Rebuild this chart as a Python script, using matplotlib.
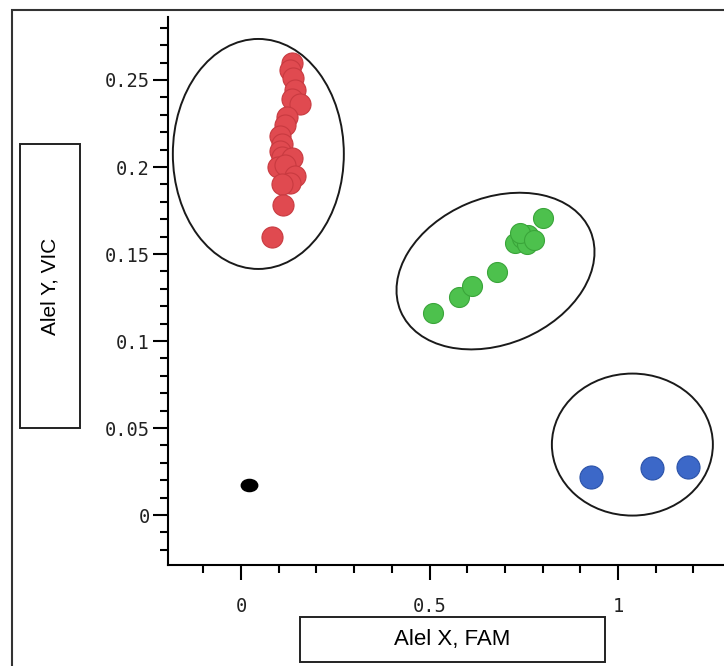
import matplotlib
matplotlib.use('Agg')
import matplotlib.pyplot as plt
import matplotlib.patches as patches
import matplotlib.transforms as mtransforms
from matplotlib.path import Path
from matplotlib.ticker import MultipleLocator, FuncFormatter

# allele Y (VIC) homozygotes
red_x = [0.134, 0.130, 0.138, 0.143, 0.136, 0.156, 0.122, 0.117, 0.103, 0.110,
         0.103, 0.109, 0.135, 0.098, 0.117, 0.143, 0.130, 0.109, 0.111, 0.082]
red_y = [0.260, 0.256, 0.251, 0.244, 0.239, 0.236, 0.229, 0.224, 0.218, 0.213,
         0.209, 0.206, 0.205, 0.200, 0.201, 0.195, 0.191, 0.190, 0.178, 0.160]

# heterozygotes
green_x = [0.510, 0.577, 0.612, 0.678, 0.727, 0.745, 0.762, 0.758, 0.740, 0.802, 0.776]
green_y = [0.1163, 0.1251, 0.1316, 0.1398, 0.1561, 0.1590, 0.1610, 0.1560, 0.1620, 0.1705, 0.1580]

# allele X (FAM) homozygotes
blue_x = [0.928, 1.089, 1.186]
blue_y = [0.0217, 0.0268, 0.0274]

# no template control
ntc_x = [0.021]
ntc_y = [0.0172]

# cluster circles: center x, center y, width px, height px, angle
clusters = [
    (0.046, 0.2075, 171, 230, 0),
    (0.675, 0.1402, 206, 146, 23),
    (1.038, 0.0405, 161, 142, 0),
]

W, H = 724, 666
fig = plt.figure(figsize=(W / 100, H / 100), dpi=100)

ax = fig.add_axes([168 / W, 1 - 565 / H, 1 - 168 / W, (565 - 17) / H])
ax.set_xlim(-0.1936, 1.281)
ax.set_ylim(-0.0287, 0.2862)

ax.scatter(red_x, red_y, s=230, color='#E04A50', edgecolors='#C83A40', linewidths=0.8, zorder=3)
ax.scatter(green_x, green_y, s=207, color='#4DC14D', edgecolors='#3AA53A', linewidths=0.8, zorder=3)
ax.scatter(blue_x, blue_y, s=275, color='#3C68C8', edgecolors='#2A52A8', linewidths=0.8, zorder=3)

# black dot is a bit wider than tall
oval = Path(Path.unit_circle().vertices * [1.35, 1.0], Path.unit_circle().codes)
ax.scatter(ntc_x, ntc_y, s=140, marker=oval, color='black', zorder=3)

for cx, cy, w, h, ang in clusters:
    tr = fig.dpi_scale_trans + mtransforms.ScaledTranslation(cx, cy, ax.transData)
    ax.add_patch(patches.Ellipse((0, 0), w / 100, h / 100, angle=ang, transform=tr,
                                 fill=False, edgecolor='#1a1a1a', lw=1.4, zorder=2))

ax.spines['top'].set_visible(False)
ax.spines['right'].set_visible(False)
ax.spines['left'].set_linewidth(1.5)
ax.spines['bottom'].set_linewidth(1.5)

ax.xaxis.set_major_locator(MultipleLocator(0.5))
ax.xaxis.set_minor_locator(MultipleLocator(0.1))
ax.yaxis.set_major_locator(MultipleLocator(0.05))
ax.yaxis.set_minor_locator(MultipleLocator(0.01))
ax.xaxis.set_major_formatter(FuncFormatter(lambda v, p: '%g' % round(v, 3)))
ax.yaxis.set_major_formatter(FuncFormatter(lambda v, p: '%g' % round(v, 3)))

ax.tick_params(which='major', length=11, width=1.5)
ax.tick_params(which='minor', length=6, width=1.5)
ax.tick_params(axis='x', which='major', pad=12)
ax.tick_params(axis='y', which='major', pad=2)
for lab in ax.get_xticklabels() + ax.get_yticklabels():
    lab.set_family('DejaVu Sans Mono')
    lab.set_fontsize(13.5)
    lab.set_color('#222222')

# outer scan frame
fig.patches.append(patches.Rectangle((12 / W, -0.1), 2, 1.1 - 10 / H, transform=fig.transFigure,
                                     fill=False, edgecolor='#333333', lw=1.5))

# axis titles in boxes
fig.patches.append(patches.Rectangle((20 / W, 1 - 428 / H), 60 / W, 284 / H, transform=fig.transFigure,
                                     fill=False, edgecolor='#222222', lw=1.4))
fig.text(50 / W, 1 - 286 / H, 'Alel Y, VIC', rotation=90, ha='center', va='center',
         family='Liberation Sans', fontsize=15)

fig.patches.append(patches.Rectangle((300 / W, 1 - 662 / H), 305 / W, 45 / H, transform=fig.transFigure,
                                     fill=False, edgecolor='#222222', lw=1.4))
fig.text(452 / W, 1 - 640 / H, 'Alel X, FAM', ha='center', va='center',
         family='Liberation Sans', fontsize=16)

plt.savefig('out.png', dpi=100)
